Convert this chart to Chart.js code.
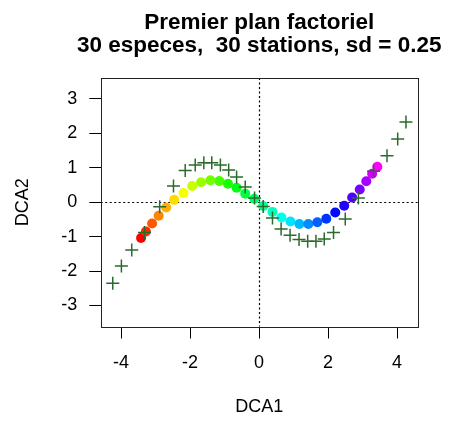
<!DOCTYPE html>
<html>
<head>
<meta charset="utf-8">
<script src="https://cdn.jsdelivr.net/npm/chart.js@4"></script>
<style>
  html, body { margin: 0; padding: 0; background: #fff; }
  #wrap { width: 451px; height: 421px; }
</style>
</head>
<body>
<div id="wrap"><canvas id="myChart"></canvas></div>
<script>
// stations (coloured circles)
const stationX = [-3.42, -3.28, -3.10, -2.91, -2.69, -2.46, -2.19, -1.94, -1.68, -1.41,
                  -1.15, -0.90, -0.65, -0.40, -0.14, 0.12, 0.39, 0.65, 0.91, 1.17,
                  1.43, 1.69, 1.95, 2.21, 2.47, 2.70, 2.92, 3.11, 3.28, 3.43];
const stationY = [-1.04, -0.85, -0.62, -0.39, -0.15, 0.07, 0.27, 0.47, 0.58, 0.64,
                  0.62, 0.54, 0.42, 0.25, 0.10, -0.11, -0.28, -0.44, -0.56, -0.63,
                  -0.63, -0.58, -0.48, -0.30, -0.10, 0.14, 0.37, 0.61, 0.83, 1.03];
// species (crosses)
const speciesX = [-4.24, -3.99, -3.69, -3.32, -2.88, -2.48, -2.14, -1.85, -1.60, -1.37,
                  -1.12, -0.88, -0.65, -0.40, -0.13, 0.12, 0.39, 0.64, 0.90, 1.16,
                  1.41, 1.65, 1.89, 2.16, 2.50, 2.88, 3.32, 3.71, 4.02, 4.26];
const speciesY = [-2.35, -1.85, -1.39, -0.88, -0.13, 0.47, 0.92, 1.08, 1.15, 1.15,
                  1.08, 0.94, 0.73, 0.44, 0.12, -0.12, -0.46, -0.78, -0.96, -1.08,
                  -1.13, -1.13, -1.07, -0.88, -0.49, 0.12, 0.90, 1.35, 1.84, 2.33];
const xTicks = [-4, -2, 0, 2, 4];
const yTicks = [-3, -2, -1, 0, 1, 2, 3];
const titleLines = ['Premier plan factoriel', '30 especes,  30 stations, sd = 0.25'];

const FONT = "'Liberation Sans', Arial, Helvetica, sans-serif";

const stationColors = stationX.map((_, i) => `hsl(${i * 300 / (stationX.length - 1)}, 100%, 50%)`);

// box around the plot + dotted lines through 0, and the 2-line title centred on the plot
const framePlugin = {
  id: 'frame',
  beforeDatasetsDraw(chart) {
    const { ctx, chartArea: a, scales } = chart;
    const x0 = Math.round(scales.x.getPixelForValue(0)) + 0.5;
    const y0 = Math.round(scales.y.getPixelForValue(0)) + 0.5;
    ctx.save();
    ctx.strokeStyle = '#000';
    ctx.lineWidth = 1.2;
    ctx.setLineDash([2, 2.5]);
    ctx.beginPath();
    ctx.moveTo(x0, a.top); ctx.lineTo(x0, a.bottom);
    ctx.moveTo(a.left, y0); ctx.lineTo(a.right, y0);
    ctx.stroke();
    ctx.setLineDash([]);
    ctx.lineWidth = 1;
    ctx.strokeStyle = '#222';
    ctx.strokeRect(Math.round(a.left) + 0.5, Math.round(a.top) + 0.5,
                   Math.round(a.right - a.left), Math.round(a.bottom - a.top));
    ctx.restore();
  },
  afterDraw(chart) {
    const { ctx, chartArea: a } = chart;
    const cx = (a.left + a.right) / 2;
    ctx.save();
    ctx.fillStyle = '#000';
    ctx.font = `bold 22.5px ${FONT}`;
    ctx.textAlign = 'center';
    ctx.textBaseline = 'alphabetic';
    titleLines.forEach((t, i) => ctx.fillText(t, cx, 28.5 + i * 23.3));
    ctx.restore();
  }
};

const ctx = document.getElementById('myChart').getContext('2d');
const myChart = new Chart(ctx, {
  type: 'scatter',
  data: {
    datasets: [
      {
        label: 'stations',
        data: stationX.map((x, i) => ({ x: x, y: stationY[i] })),
        pointBackgroundColor: stationColors,
        pointBorderWidth: 0,
        pointRadius: 5,
        order: 2
      },
      {
        label: 'especes',
        data: speciesX.map((x, i) => ({ x: x, y: speciesY[i] })),
        pointStyle: 'cross',
        pointRadius: 6.5,
        pointBorderColor: '#2b6a2b',
        pointBorderWidth: 1.5,
        order: 1
      }
    ]
  },
  options: {
    responsive: true,
    maintainAspectRatio: false,
    animation: false,
    layout: { padding: { left: 0, right: 33.3, top: 78, bottom: 0 } },
    plugins: {
      legend: { display: false },
      tooltip: { enabled: false },
      title: { display: false }
    },
    scales: {
      x: {
        type: 'linear',
        min: -4.59,
        max: 4.6,
        afterBuildTicks: s => { s.ticks = xTicks.map(v => ({ value: v })); },
        afterFit: s => { s.height = 94.5; },
        grid: { drawOnChartArea: false, drawTicks: true, tickLength: 12, tickColor: '#000', tickWidth: 1 },
        border: { display: false },
        ticks: { color: '#000', font: { family: FONT, size: 18 }, padding: 14, maxRotation: 0 },
        title: { display: true, text: 'DCA1', color: '#000', font: { family: FONT, size: 18 }, padding: { top: 0, bottom: 3 } }
      },
      y: {
        type: 'linear',
        min: -3.61,
        max: 3.61,
        afterBuildTicks: s => { s.ticks = yTicks.map(v => ({ value: v })); },
        afterFit: s => { s.width = 100.7; },
        grid: { drawOnChartArea: false, drawTicks: true, tickLength: 11.4, tickColor: '#000', tickWidth: 1 },
        border: { display: false },
        ticks: { color: '#000', font: { family: FONT, size: 18 }, padding: 12 },
        title: { display: true, text: 'DCA2', color: '#000', font: { family: FONT, size: 18 }, padding: { top: 12, bottom: 0 } }
      }
    }
  },
  plugins: [framePlugin]
});
</script>
</body>
</html>
